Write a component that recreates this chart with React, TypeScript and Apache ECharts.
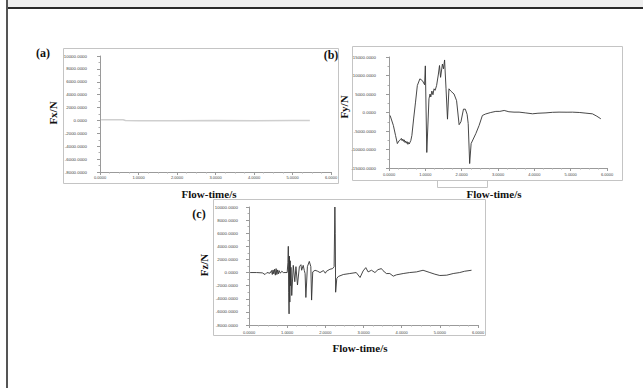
import React, { useEffect, useRef } from "react";
import * as echarts from "echarts";

// ---- data ----
const xTicks = [0, 1, 2, 3, 4, 5, 6];

// (a) Fx
const tFx = [0.03, 0.3, 0.6, 0.66, 1.0, 2.0, 3.0, 4.0, 5.0, 5.45];
const fx = [120, 120, 100, -20, -30, -30, -20, -30, -20, -20];

// (b) Fy
const tFy = [
  0.03, 0.12, 0.18, 0.23, 0.28, 0.32, 0.34, 0.36, 0.38, 0.4, 0.42, 0.44, 0.46, 0.48, 0.5, 0.52, 0.54, 0.56,
  0.58, 0.6, 0.63, 0.68, 0.73, 0.78, 0.85, 0.92, 0.98, 1.0, 1.04, 1.1, 1.13, 1.15, 1.18, 1.21, 1.24, 1.27,
  1.31, 1.36, 1.39, 1.42, 1.47, 1.5, 1.53, 1.57, 1.61, 1.65, 1.7, 1.79, 1.86, 1.93, 1.98, 2.05, 2.1, 2.15,
  2.18, 2.22, 2.26, 2.39, 2.48, 2.57, 2.66, 2.8, 2.94, 3.05, 3.17, 3.3, 3.44, 3.58, 3.75, 3.95, 4.1, 4.32,
  4.5, 4.68, 4.9, 5.05, 5.25, 5.42, 5.6, 5.72, 5.83,
];
const fy = [
  -800, -3500, -6200, -8400, -7600, -7300, -7000, -7600, -7200, -7800, -7400, -8100, -7700, -8300, -7900, -8600,
  -8100, -8500, -8000, -7600, -6200, -1500, 2800, 7300, 9100, 8600, 7500, 12600, -10800, 3700, 5000, 4200, 5800,
  4800, 6400, 6000, 7300, 10400, 12700, 9500, 13100, 11800, 14200, 6400, -1800, 6400, 5800, 5000, 3200, -3300,
  -2500, 900, 900, -500, -3000, -13800, -8400, -5700, -3500, -800, -400, 0, 300, 300, 550, 200, 100, 100, -100,
  -350, -200, -100, 50, 100, 80, 90, 0, -180, -360, -1000, -1700,
];

// (c) Fz
const tFz = [
  0.03, 0.2, 0.35, 0.42, 0.47, 0.55, 0.59, 0.61, 0.63, 0.65, 0.67, 0.69, 0.71, 0.73, 0.75, 0.77, 0.79, 0.82,
  0.86, 0.9, 1.0, 1.02, 1.03, 1.04, 1.05, 1.06, 1.07, 1.08, 1.09, 1.1, 1.12, 1.16, 1.2, 1.23, 1.27, 1.32, 1.36,
  1.38, 1.42, 1.45, 1.47, 1.49, 1.53, 1.58, 1.62, 1.64, 1.67, 1.73, 1.8, 1.86, 1.95, 2.0, 2.03, 2.12, 2.19,
  2.23, 2.25, 2.26, 2.27, 2.3, 2.34, 2.47, 2.64, 2.81, 2.91, 2.99, 3.06, 3.12, 3.21, 3.3, 3.38, 3.47, 3.51,
  3.6, 3.69, 3.78, 3.86, 4.04, 4.21, 4.39, 4.56, 4.74, 4.87, 5.0, 5.18, 5.35, 5.52, 5.65, 5.83,
];
const fz = [
  0, 0, -50, -300, 0, -100, 300, -300, 400, -200, 500, -400, 600, -300, 400, -200, 300, -100, 200, 0, 0, 1500,
  4000, -3000, -6300, 2500, -4500, 1800, -2000, 800, -3500, 1100, -1400, 900, -1900, 900, 1200, 350, 1100, 300,
  -150, -3800, 900, 1700, 900, -4200, 100, 350, 200, 0, 300, -100, 200, 500, 600, 900, 10000, 6000, -3000, -900,
  -600, -300, -150, 0, -750, 250, 750, 100, 350, 0, 450, 600, 300, -150, -150, -550, -350, -150, 0, 100, 350, 0,
  -250, -450, -400, -150, 0, 200, 350,
];

const yTicksA = [-8000, 10000, 2000];
const yTicksB = [-15000, 15000, 5000];
const yTicksC = [-8000, 10000, 2000];

const SERIF = "'Liberation Serif', 'Times New Roman', serif";
const SANS = "'Liberation Sans', Arial, sans-serif";

function xAxis(gridIndex: number, margin: number) {
  return {
    type: "value",
    gridIndex,
    min: xTicks[0],
    max: xTicks[xTicks.length - 1],
    interval: 1,
    axisLine: { show: true, onZero: false, lineStyle: { color: "#9a9a9a", width: 1 } },
    axisTick: { show: true, length: 3, lineStyle: { color: "#9a9a9a" } },
    minorTick: { show: true, splitNumber: 4, length: 1.5, lineStyle: { color: "#b0b0b0" } },
    splitLine: { show: false },
    axisLabel: {
      formatter: (v: number) => v.toFixed(4),
      fontSize: 4,
      color: "#444",
      margin,
      fontFamily: SANS,
    },
  };
}

function yAxis(gridIndex: number, t: number[], margin: number) {
  return {
    type: "value",
    gridIndex,
    min: t[0],
    max: t[1],
    interval: t[2],
    axisLine: { show: true, onZero: false, lineStyle: { color: "#9a9a9a", width: 1 } },
    axisTick: { show: true, length: 3, lineStyle: { color: "#9a9a9a" } },
    minorTick: { show: true, splitNumber: 2, length: 1.5, lineStyle: { color: "#b0b0b0" } },
    splitLine: { show: false },
    axisLabel: {
      formatter: (v: number) => v.toFixed(4),
      fontSize: 4.4,
      color: "#444",
      margin,
      fontFamily: SANS,
    },
  };
}

function txt(text: string, x: number, y: number, size: number, rotate = false) {
  return {
    type: "text",
    x,
    y,
    rotation: rotate ? Math.PI / 2 : 0,
    silent: true,
    style: {
      text,
      fill: "#111",
      font: `bold ${size}px ${SERIF}`,
      align: "center",
      verticalAlign: "middle",
    },
  };
}

function frame(x: number, y: number, w: number, h: number) {
  return {
    type: "rect",
    silent: true,
    shape: { x: x + 0.5, y: y + 0.5, width: w, height: h },
    style: { fill: "none", stroke: "#c4c4c4", lineWidth: 1 },
  };
}

export default function App() {
  const ref = useRef<HTMLDivElement>(null);
  useEffect(() => {
    if (!ref.current) return;
    const chart = echarts.init(ref.current, null, { renderer: "svg" });
    const pairs = (t: number[], v: number[]) => t.map((x, i) => [x, v[i]]);
    chart.setOption({
      animation: false,
      backgroundColor: "#ffffff",
      grid: [
        { left: 100, top: 56, width: 231, height: 116, containLabel: false },
        { left: 389, top: 57, width: 218, height: 111, containLabel: false },
        { left: 249, top: 207, width: 229, height: 118, containLabel: false },
      ],
      xAxis: [xAxis(0, 3), xAxis(1, 4), xAxis(2, 5)],
      yAxis: [yAxis(0, yTicksA, 13), yAxis(1, yTicksB, 13), yAxis(2, yTicksC, 11)],
      series: [
        {
          type: "line",
          xAxisIndex: 0,
          yAxisIndex: 0,
          data: pairs(tFx, fx),
          showSymbol: false,
          silent: true,
          lineStyle: { color: "#cfcfcf", width: 1.5 },
        },
        {
          type: "line",
          xAxisIndex: 1,
          yAxisIndex: 1,
          data: pairs(tFy, fy),
          showSymbol: false,
          silent: true,
          lineStyle: { color: "#333", width: 0.9 },
        },
        {
          type: "line",
          xAxisIndex: 2,
          yAxisIndex: 2,
          data: pairs(tFz, fz),
          showSymbol: false,
          silent: true,
          lineStyle: { color: "#333", width: 0.9 },
        },
      ],
      graphic: [
        { type: "rect", silent: true, shape: { x: 7, y: 0, width: 636, height: 7 }, style: { fill: "#eeeeee" } },
        { type: "rect", silent: true, shape: { x: 7, y: 7, width: 636, height: 2 }, style: { fill: "#2a2a2a" } },
        { type: "rect", silent: true, shape: { x: 6, y: 0, width: 2, height: 388 }, style: { fill: "#555555" } },
        frame(63, 48, 275, 135),
        frame(352, 46, 270, 134),
        frame(213, 199, 272, 136),
        {
          type: "polyline",
          silent: true,
          shape: { points: [[437.5, 180], [437.5, 187.5], [487.5, 187.5], [487.5, 180]] },
          style: { fill: "none", stroke: "#c4c4c4", lineWidth: 1 },
        },
        txt("(a)", 43, 53, 12),
        txt("(b)", 331, 55, 12),
        txt("(c)", 199, 214, 12),
        txt("Fx/N", 53, 113, 11, true),
        txt("Fy/N", 344, 107, 11, true),
        txt("Fz/N", 204, 265, 11, true),
        txt("Flow-time/s", 209, 194, 11),
        txt("Flow-time/s", 494, 194, 11),
        txt("Flow-time/s", 360, 348, 11),
      ],
    });
    return () => chart.dispose();
  }, []);
  return (
    <div
      ref={ref}
      style={{ position: "absolute", left: 0, top: 0, width: 643, height: 388, background: "#fff" }}
    />
  );
}
